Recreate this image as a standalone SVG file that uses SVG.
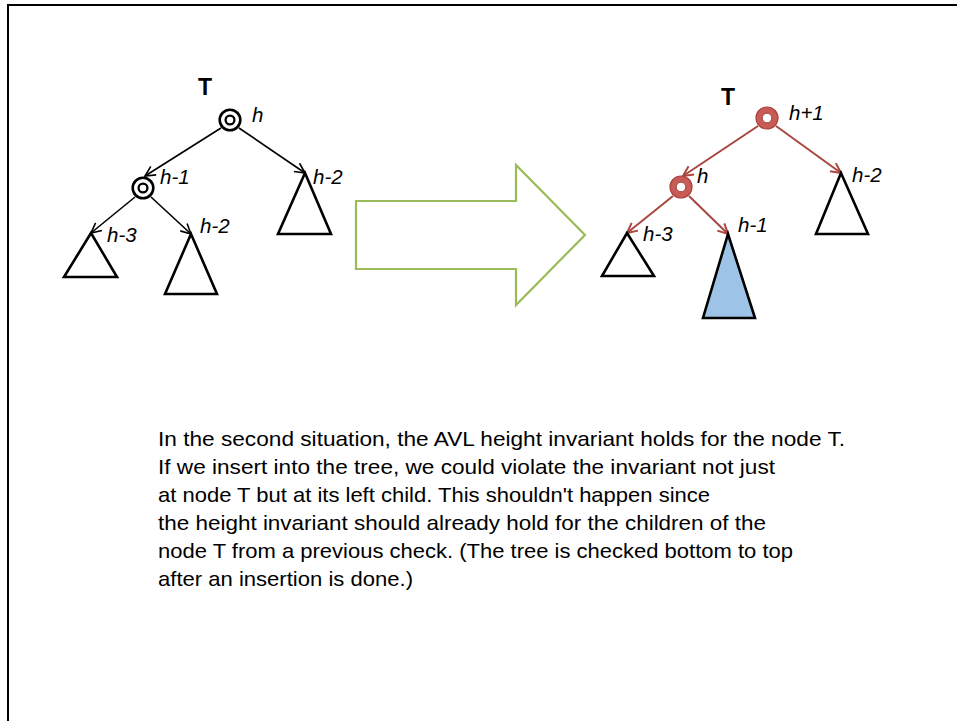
<svg xmlns="http://www.w3.org/2000/svg" width="957" height="721" viewBox="0 0 957 721">
  <defs>
    <marker id="arrB" markerUnits="userSpaceOnUse" markerWidth="12" markerHeight="12" viewBox="0 0 12 12" refX="11" refY="6" orient="auto">
      <path d="M1,1 L11,6 L1,11" fill="none" stroke="#000" stroke-width="1.6"/>
    </marker>
    <marker id="arrR" markerUnits="userSpaceOnUse" markerWidth="12" markerHeight="12" viewBox="0 0 12 12" refX="11" refY="6" orient="auto">
      <path d="M1,1 L11,6 L1,11" fill="none" stroke="#A9463F" stroke-width="2"/>
    </marker>
  </defs>
  <style>
    .lbl { font-family: "Liberation Sans", Arial, sans-serif; font-size: 20.5px; font-style: italic; fill: #000; }
    .ttl { font-family: "Liberation Sans", Arial, sans-serif; font-size: 23px; font-weight: bold; fill: #000; text-anchor: middle; }
    .body { font-family: "Liberation Sans", Arial, sans-serif; font-size: 21px; fill: #000; }
    .tri { fill: #fff; stroke: #000; stroke-width: 2.6; stroke-linejoin: miter; }
    .ab { stroke: #000; stroke-width: 1.6; fill: none; marker-end: url(#arrB); }
    .ar { stroke: #A9463F; stroke-width: 2; fill: none; marker-end: url(#arrR); }
  </style>
  <rect width="957" height="721" fill="#fff"/>
  <!-- frame -->
  <path d="M8,721 L8,5 L957,5" fill="none" stroke="#000" stroke-width="2"/>

  <!-- connectors -->
  <g id="connectors">
    <line class="ab" x1="221" y1="128" x2="145" y2="176"/>
    <line class="ab" x1="239" y1="128" x2="305" y2="173"/>
    <line class="ab" x1="135" y1="197" x2="91" y2="233"/>
    <line class="ab" x1="151" y1="197" x2="191" y2="234"/>
    <line class="ar" x1="758" y1="126" x2="683" y2="176"/>
    <line class="ar" x1="776" y1="126" x2="841" y2="173"/>
    <line class="ar" x1="673" y1="196" x2="627" y2="233"/>
    <line class="ar" x1="689" y1="196" x2="728" y2="234"/>
  </g>

  <!-- left tree -->
  <g id="left-T-label"><text class="ttl" x="205" y="95">T</text></g>
  <g id="left-root">
    <circle cx="230" cy="120" r="10.3" fill="#fff" stroke="#000" stroke-width="2.6"/>
    <circle cx="230" cy="120" r="4.4" fill="#fff" stroke="#000" stroke-width="2.3"/>
    <text class="lbl" x="252" y="122">h</text>
  </g>
  <g id="left-child">
    <circle cx="143" cy="188" r="10.3" fill="#fff" stroke="#000" stroke-width="2.6"/>
    <circle cx="143" cy="188" r="4.4" fill="#fff" stroke="#000" stroke-width="2.3"/>
    <text class="lbl" x="160" y="184">h-1</text>
  </g>
  <g id="left-right-subtree">
    <polygon class="tri" points="305,173 278,234 331,234"/>
    <text class="lbl" x="313" y="184">h-2</text>
  </g>
  <g id="left-ll-subtree">
    <polygon class="tri" points="91,233 64,277 117,277"/>
    <text class="lbl" x="107" y="242">h-3</text>
  </g>
  <g id="left-lr-subtree">
    <polygon class="tri" points="191,234 165,294 217,294"/>
    <text class="lbl" x="200" y="233">h-2</text>
  </g>

  <!-- block arrow -->
  <g id="transition-arrow">
    <polygon points="356,201 516,201 516,165 585,235 516,305 516,269 356,269" fill="#fff" stroke="#9BBB59" stroke-width="2.2"/>
  </g>

  <!-- right tree -->
  <g id="right-T-label"><text class="ttl" x="728" y="105">T</text></g>
  <g id="right-root">
    <circle cx="767" cy="118" r="11" fill="#C85B55" stroke="#A8423D" stroke-width="1.2"/>
    <circle cx="767" cy="118" r="4.8" fill="#fff" stroke="#A8423D" stroke-width="1"/>
    <text class="lbl" x="789" y="120">h+1</text>
  </g>
  <g id="right-child">
    <circle cx="681" cy="187" r="11" fill="#C85B55" stroke="#A8423D" stroke-width="1.2"/>
    <circle cx="681" cy="187" r="4.8" fill="#fff" stroke="#A8423D" stroke-width="1"/>
    <text class="lbl" x="697" y="183">h</text>
  </g>
  <g id="right-right-subtree">
    <polygon class="tri" points="841,173 816,234 868,234"/>
    <text class="lbl" x="852" y="182">h-2</text>
  </g>
  <g id="right-ll-subtree">
    <polygon class="tri" points="627,233 602,276 654,276"/>
    <text class="lbl" x="643" y="241">h-3</text>
  </g>
  <g id="right-lr-subtree">
    <polygon class="tri" points="728,234 703,318 755,318" style="fill:#9DC3E6"/>
    <text class="lbl" x="738" y="232">h-1</text>
  </g>

  <!-- explanation -->
  <g id="explanation">
    <text class="body" x="158" y="446" textLength="687" lengthAdjust="spacingAndGlyphs">In the second situation, the AVL height invariant holds for the node T.</text>
    <text class="body" x="158" y="474" textLength="617" lengthAdjust="spacingAndGlyphs">If we insert into the tree, we could violate the invariant not just</text>
    <text class="body" x="158" y="502" textLength="552" lengthAdjust="spacingAndGlyphs">at node T but at its left child. This shouldn't happen since</text>
    <text class="body" x="158" y="530" textLength="608" lengthAdjust="spacingAndGlyphs">the height invariant should already hold for the children of the</text>
    <text class="body" x="158" y="558" textLength="635" lengthAdjust="spacingAndGlyphs">node T from a previous check. (The tree is checked bottom to top</text>
    <text class="body" x="158" y="586" textLength="255" lengthAdjust="spacingAndGlyphs">after an insertion is done.)</text>
  </g>
</svg>
